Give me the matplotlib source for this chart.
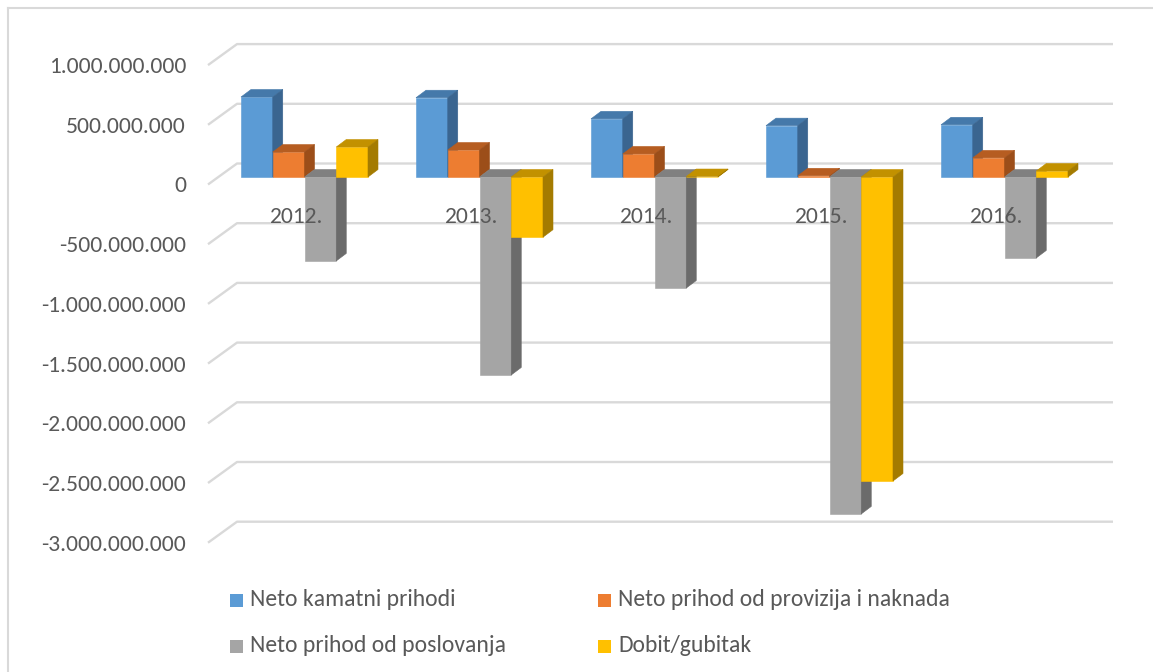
import matplotlib
matplotlib.use("Agg")
import matplotlib.pyplot as plt
from matplotlib.patches import Polygon, Rectangle
from matplotlib.lines import Line2D
from matplotlib import font_manager as fm

# ---------------- data ----------------
years = ["2012.", "2013.", "2014.", "2015.", "2016."]
series_names = ["Neto kamatni prihodi",
                "Neto prihod od provizija i naknada",
                "Neto prihod od poslovanja",
                "Dobit/gubitak"]
neto_kamatni = [670e6, 664e6, 487e6, 430e6, 437e6]
neto_provizije = [209e6, 226e6, 193e6, 10e6, 160e6]
neto_poslovanje = [-703e6, -1658e6, -930e6, -2822e6, -678e6]
dobit_gubitak = [251e6, -504e6, 4e6, -2546e6, 50e6]
tick_values = [1e9, 5e8, 0, -5e8, -1e9, -1.5e9, -2e9, -2.5e9, -3e9]

series = [neto_kamatni, neto_provizije, neto_poslovanje, dobit_gubitak]
front_c = ["#5B9BD5", "#ED7D31", "#A5A5A5", "#FFC000"]
top_c = ["#4579AA", "#B65D21", "#808080", "#C29100"]
side_c = ["#3A6590", "#9C4E19", "#6B6B6B", "#A47B00"]
text_c = "#595959"
grid_c = "#D9D9D9"

installed = {f.name for f in fm.fontManager.ttflist}
FONT = "Carlito" if "Carlito" in installed else "Open Sans"

W, H = 1153, 672
fig = plt.figure(figsize=(W / 100, H / 100), dpi=100)
renderer = fig.canvas.get_renderer()


def fit_size(text, target_px):
    t = fig.text(0, 0, text, fontsize=10, family=FONT)
    w = t.get_window_extent(renderer).width
    t.remove()
    return 10 * target_px / w


FS_AX = fit_size("1.000.000.000", 138)
FS_LEG = fit_size("Neto prihod od provizija i naknada", 333)

ax = fig.add_axes([0, 0, 1, 1])
ax.axis("off")

# layout (pixels)
x0_px = 304.5        # centre of first group
cat_px = 175.0       # distance between groups
zero_px = 177.0      # y of zero in bar plane (from top)
k = 59.7 / 5e8       # pixels per value unit

ax.set_xlim(-x0_px / cat_px, (W - x0_px) / cat_px)
ax.set_ylim(-(H - zero_px) / k, zero_px / k)


def px2x(xp):
    return (xp - x0_px) / cat_px


def dpx2y(dp):
    return dp / k


# gridlines (3D wall style) and value labels
for v in tick_values:
    ax.plot([px2x(208), px2x(237), px2x(1113)],
            [v - dpx2y(7.5), v + dpx2y(13.5), v + dpx2y(13.5)],
            color=grid_c, lw=1.7, zorder=1, solid_capstyle="butt")
    lab = f"{int(v):,}".replace(",", ".")
    ax.text(px2x(186), v - dpx2y(15.5), lab, ha="right", va="baseline",
            fontsize=FS_AX, family=FONT, color=text_c)

# bars with pseudo-3D faces
bw = 31.75 / cat_px
DX = 10.0 / cat_px
DY = dpx2y(7.5)
for j, vals in enumerate(series):
    lefts = [i - 2 * bw + j * bw for i in range(len(years))]
    bars = ax.bar(lefts, vals, width=bw, align="edge", color=front_c[j],
                  edgecolor=front_c[j], lw=0.4)
    for i, (rect, v) in enumerate(zip(bars.patches, vals)):
        z = 3 + i * 4 + j
        rect.set_zorder(z)
        a = lefts[i]
        b = a + bw
        ty = max(v, 0)
        by = min(v, 0)
        topf = Polygon([(a, ty), (b, ty), (b + DX, ty + DY), (a + DX, ty + DY)],
                       closed=True, fc=top_c[j], ec=top_c[j], lw=0.4, zorder=z)
        sidef = Polygon([(b, by), (b + DX, by + DY), (b + DX, ty + DY), (b, ty)],
                        closed=True, fc=side_c[j], ec=side_c[j], lw=0.4, zorder=z)
        ax.add_patch(topf)
        ax.add_patch(sidef)

# category labels
for i, y in enumerate(years):
    ax.text(i - 8 / cat_px, -dpx2y(46), y, ha="center", va="baseline",
            fontsize=FS_AX, family=FONT, color=text_c, zorder=50)

# legend (two rows, two columns)
leg_x = [230, 598]
leg_y = [600, 646.5]
order = [(0, 0, 0), (1, 1, 0), (2, 0, 1), (3, 1, 1)]
for s, c, r in order:
    cx, cy = leg_x[c], leg_y[r]
    fig.add_artist(Rectangle((cx / W, 1 - (cy + 6.5) / H), 13 / W, 13 / H,
                             transform=fig.transFigure, fc=front_c[s], ec="none"))
    fig.text((cx + 20) / W, 1 - (cy + 6) / H, series_names[s], ha="left",
             va="baseline", fontsize=FS_LEG, family=FONT, color=text_c)

# frame lines (left & top)
fig.add_artist(Line2D([7.5 / W, 7.5 / W], [0, 1 - 7.5 / H], transform=fig.transFigure,
                      color=grid_c, lw=1.5))
fig.add_artist(Line2D([7.5 / W, 1], [1 - 7.5 / H, 1 - 7.5 / H], transform=fig.transFigure,
                      color=grid_c, lw=1.5))

fig.savefig("out.png", dpi=100, facecolor="white")
